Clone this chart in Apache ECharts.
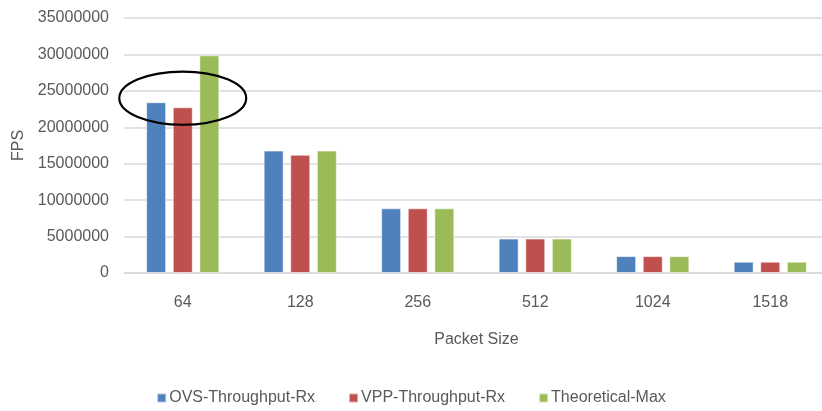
<!DOCTYPE html>
<html>
<head>
<meta charset="utf-8">
<script src="https://cdn.jsdelivr.net/npm/echarts@6/dist/echarts.min.js"></script>
<style>
  html, body { margin: 0; padding: 0; background: #fff; }
  #chart { width: 822px; height: 411px; }
</style>
</head>
<body>
<div id="chart"></div>
<script>
const categories = ['64', '128', '256', '512', '1024', '1518'];
const ovsRx = [23440000, 16800000, 8880000, 4730000, 2320000, 1550000];
const vppRx = [22750000, 16230000, 8880000, 4730000, 2320000, 1550000];
const theoreticalMax = [29880000, 16800000, 8880000, 4730000, 2320000, 1550000];
const yTicks = [0, 5000000, 10000000, 15000000, 20000000, 25000000, 30000000, 35000000];
// highlight ellipse around the 64-byte group: centre category/value, half-height in value units
const highlightCategory = '64';
const highlightValue = 24000000;
const highlightHalfValue = 3650000;

const textColor = '#595959';
const font = 'Liberation Sans';

const chart = echarts.init(document.getElementById('chart'), null, { renderer: 'canvas' });

function bar(name, data, color) {
  return {
    name, type: 'bar', data,
    barWidth: 20, barGap: '33%',
    itemStyle: { color, borderColor: 'rgba(255,255,255,0.55)', borderWidth: 1 }
  };
}

chart.setOption({
  animation: false,
  backgroundColor: '#ffffff',
  textStyle: { fontFamily: font },
  grid: { left: 124, right: -7, top: 18, bottom: 138, containLabel: false, outerBoundsMode: 'none' },
  legend: {
    bottom: 0, left: 'center',
    itemWidth: 9, itemHeight: 9, itemGap: 33,
    icon: 'rect',
    textStyle: { color: textColor, fontSize: 16, fontFamily: font, padding: [0, 0, 0, -2] },
    data: ['OVS-Throughput-Rx', 'VPP-Throughput-Rx', 'Theoretical-Max']
  },
  xAxis: {
    type: 'category', data: categories,
    name: 'Packet Size', nameLocation: 'middle', nameGap: 59,
    nameTextStyle: { color: textColor, fontSize: 16, fontFamily: font },
    axisLine: { lineStyle: { color: '#d9d9d9', width: 1.5 } },
    axisTick: { show: false },
    axisLabel: { color: textColor, fontSize: 16, fontFamily: font, margin: 22 }
  },
  yAxis: {
    type: 'value', min: 0, max: yTicks[yTicks.length - 1], interval: yTicks[1] - yTicks[0],
    name: 'FPS', nameLocation: 'middle', nameGap: 96, nameRotate: 90,
    nameTextStyle: { color: textColor, fontSize: 16, fontFamily: font },
    axisLine: { show: false }, axisTick: { show: false },
    axisLabel: { color: textColor, fontSize: 16, fontFamily: font, margin: 15, formatter: v => String(v) },
    splitLine: { lineStyle: { color: '#d9d9d9', width: 1.5 } }
  },
  series: [
    bar('OVS-Throughput-Rx', ovsRx, '#4f81bd'),
    bar('VPP-Throughput-Rx', vppRx, '#c0504d'),
    bar('Theoretical-Max', theoreticalMax, '#9bbb59')
  ]
});

// ellipse annotation positioned via the axes
const cPt = chart.convertToPixel({ xAxisIndex: 0, yAxisIndex: 0 }, [highlightCategory, highlightValue]);
const topPt = chart.convertToPixel({ xAxisIndex: 0, yAxisIndex: 0 }, [highlightCategory, highlightValue + highlightHalfValue]);
const nextPt = chart.convertToPixel({ xAxisIndex: 0, yAxisIndex: 0 }, [categories[1], highlightValue]);
const catW = nextPt[0] - cPt[0];
chart.setOption({
  graphic: [{
    type: 'ellipse',
    shape: { cx: cPt[0], cy: cPt[1], rx: catW * 0.54, ry: cPt[1] - topPt[1] },
    style: { fill: 'none', stroke: '#000', lineWidth: 2.2 },
    z: 100
  }]
});
</script>
</body>
</html>
